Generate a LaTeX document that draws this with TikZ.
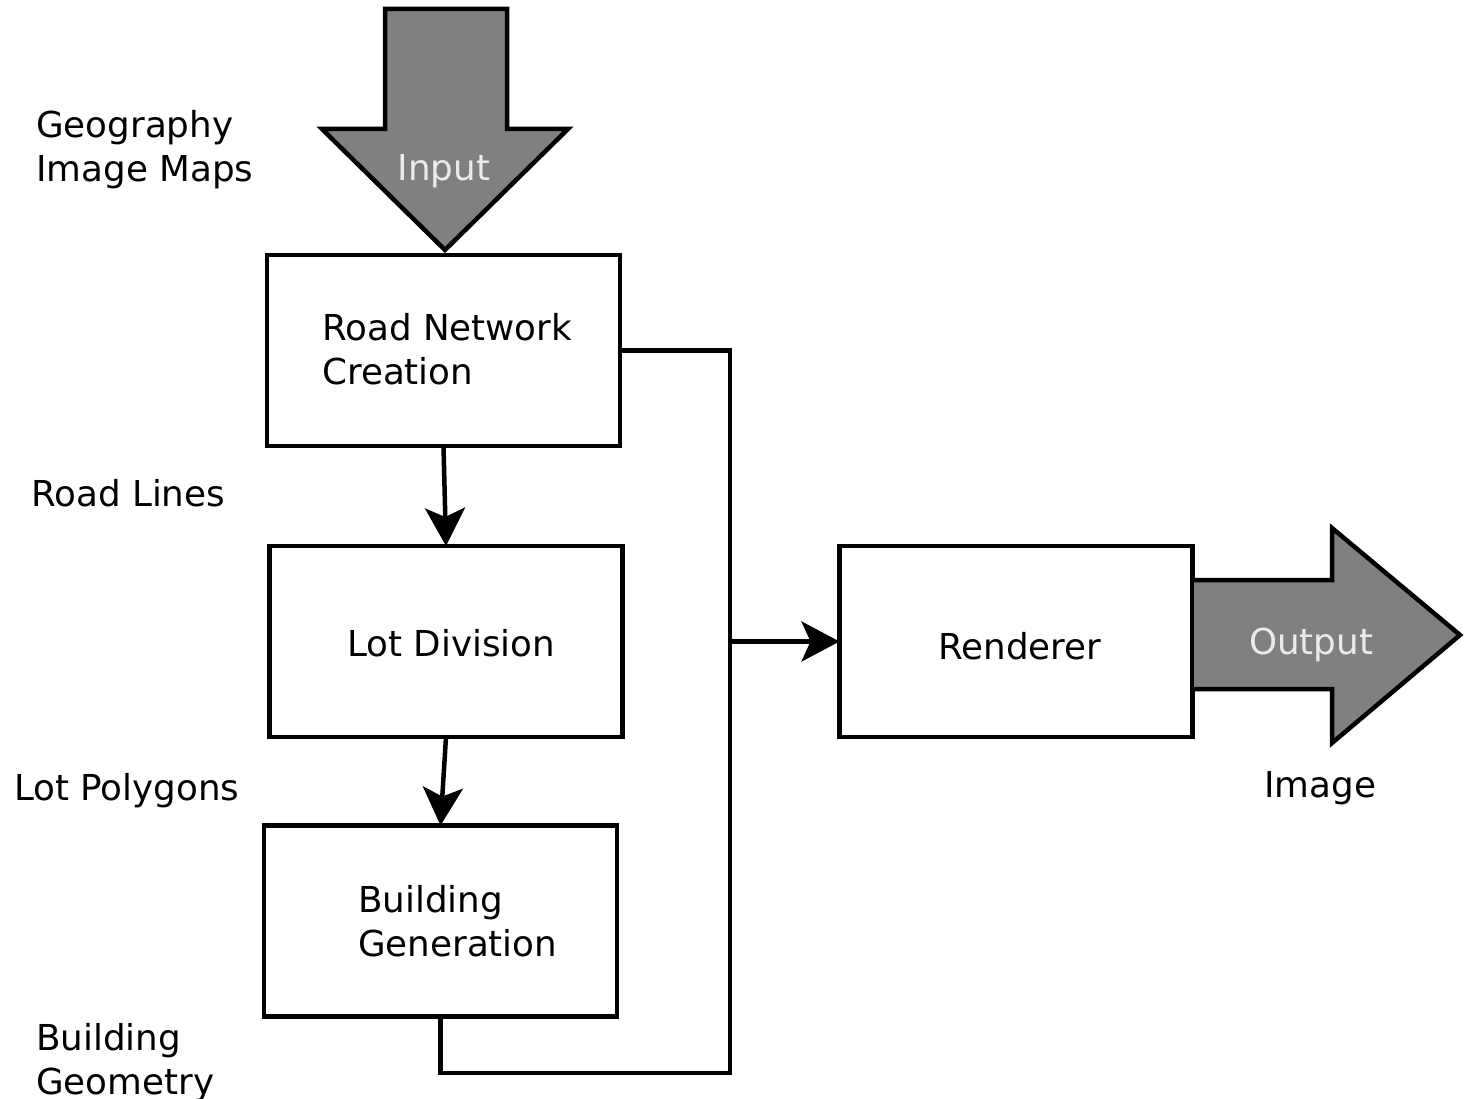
\documentclass[tikz,border=0pt]{standalone}
\usepackage{fontspec}
\setmainfont{DejaVu Sans}
\usetikzlibrary{arrows.meta}
\definecolor{arrowgray}{HTML}{808080}
\tikzset{
  box/.style={draw=black, line width=4.5pt, minimum width=353pt, minimum height=191pt, inner sep=0pt, outer sep=0pt},
  lbl/.style={font=\fontsize{35.7pt}{44pt}\selectfont, inner sep=0pt, anchor=base west, align=left},
  wlbl/.style={font=\fontsize{35.7pt}{44pt}\selectfont, inner sep=0pt, anchor=base, text=white!92!black},
  conn/.style={draw=black, line width=4.5pt},
  tip/.style={-{Stealth[length=38pt,width=40pt,inset=9pt]}},
  bigarrow/.style={fill=arrowgray, draw=black, line width=4.5pt, line join=miter}
}
\begin{document}
\begin{tikzpicture}[x=1pt,y=-1pt]
\useasboundingbox (0,0) rectangle (1466,1099);
% boxes
\node[box] (road) at (443.5,350.5) {};
\node[box] (lot) at (446,641.5) {};
\node[box] (bld) at (440.5,921) {};
\node[box] (rend) at (1016,641.5) {};
% input arrow
\filldraw[bigarrow] (385,9) -- (507,9) -- (507,129) -- (568,129) -- (445,250) -- (322,129) -- (385,129) -- cycle;
\node[wlbl] (inlbl) at (444,181) {Input};
% output arrow
\coordinate (o1) at (1194,580);
\coordinate (o2) at (1194,689);
\filldraw[bigarrow] (o1) -- (1332,580) -- (1332,528) -- (1460,635) -- (1332,743) -- (1332,689) -- (o2);
\node[wlbl] (outlbl) at (1311,654) {Output};
% box texts
\node[lbl] (roadt) at (322,384) {Road Network\\Creation};
\node[lbl] (lott) at (347,656) {Lot Division};
\node[lbl] (bldt) at (358,956) {Building\\Generation};
\node[lbl] (rendt) at (938,659) {Renderer};
% side labels
\node[lbl] (geo) at (36,182) {Geography\\Image Maps};
\node[lbl] (rl) at (31,506) {Road Lines};
\node[lbl] (lp) at (14,800) {Lot Polygons};
\node[lbl] (bg) at (36,1094) {Building\\Geometry};
\node[lbl] (img) at (1264,797) {Image};
% connectors
\coordinate (j2) at (730,1073);
\coordinate (j4) at (730,641.5);
\draw[conn] (road.east) -| (j2) -| (bld.south);
\draw[conn,tip] (j4) -- (rend.west);
\draw[conn,tip] (road.south) -- (lot.north);
\draw[conn,tip] (lot.south) -- (bld.north);
\end{tikzpicture}
\end{document}
